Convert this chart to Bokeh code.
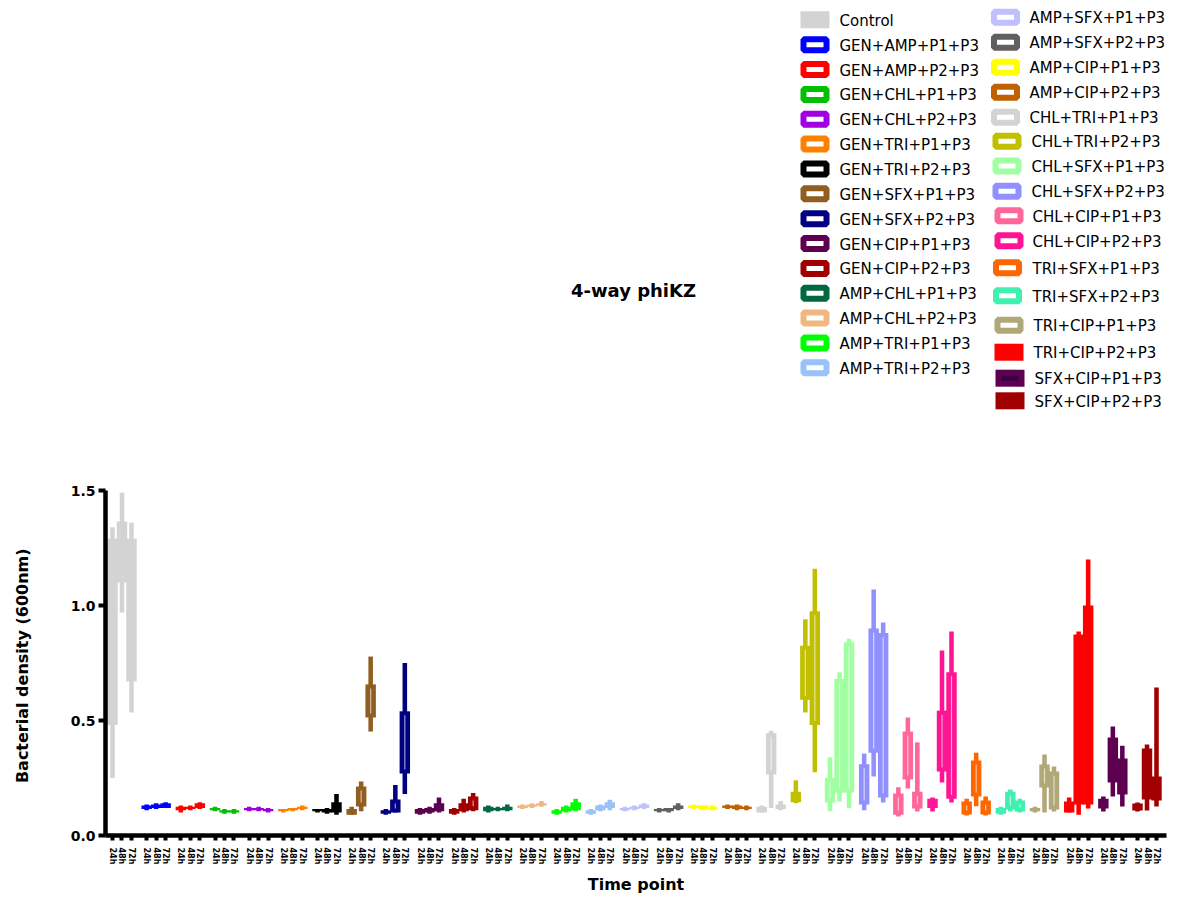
from bokeh.plotting import figure
from bokeh.models import Range1d, FixedTicker, PrintfTickFormatter, ColumnDataSource, Label
from bokeh.layouts import column
from bokeh.embed import file_html
from bokeh.resources import INLINE

groups = ["Control",
          "GEN+AMP+P1+P3", "GEN+AMP+P2+P3", "GEN+CHL+P1+P3", "GEN+CHL+P2+P3",
          "GEN+TRI+P1+P3", "GEN+TRI+P2+P3", "GEN+SFX+P1+P3", "GEN+SFX+P2+P3",
          "GEN+CIP+P1+P3", "GEN+CIP+P2+P3", "AMP+CHL+P1+P3", "AMP+CHL+P2+P3",
          "AMP+TRI+P1+P3", "AMP+TRI+P2+P3", "AMP+SFX+P1+P3", "AMP+SFX+P2+P3",
          "AMP+CIP+P1+P3", "AMP+CIP+P2+P3", "CHL+TRI+P1+P3", "CHL+TRI+P2+P3",
          "CHL+SFX+P1+P3", "CHL+SFX+P2+P3", "CHL+CIP+P1+P3", "CHL+CIP+P2+P3",
          "TRI+SFX+P1+P3", "TRI+SFX+P2+P3", "TRI+CIP+P1+P3", "TRI+CIP+P2+P3",
          "SFX+CIP+P1+P3", "SFX+CIP+P2+P3"]

colors = ["#D3D3D3", "#0000FF", "#FF0000", "#00C000", "#A000E0", "#FF8000",
          "#000000", "#8F5E20", "#000080", "#5E0050", "#A00000", "#006940",
          "#F0B880", "#00FF00", "#99C2F8", "#C0C0FF", "#606060", "#FFFF00",
          "#C06000", "#D3D3D3", "#C0C000", "#A0FFA0", "#9090FF", "#FF6699",
          "#FF1493", "#FF6600", "#40F0B0", "#B0A878", "#FF0000", "#5E0050",
          "#A00000"]

filled = [True] + [False] * 27 + [True, True, True]

time_points = ["24h", "48h", "72h"]

# per group: [24h, 48h, 72h]
mins = [[0.25, 0.97, 0.535], [0.11, 0.115, 0.12], [0.10, 0.11, 0.115],
        [0.105, 0.095, 0.095], [0.105, 0.105, 0.10], [0.10, 0.105, 0.11],
        [0.10, 0.095, 0.09], [0.09, 0.105, 0.452], [0.09, 0.10, 0.18],
        [0.09, 0.095, 0.10], [0.09, 0.10, 0.105], [0.10, 0.105, 0.105],
        [0.115, 0.12, 0.125], [0.09, 0.10, 0.105], [0.09, 0.105, 0.11],
        [0.105, 0.11, 0.115], [0.10, 0.10, 0.11], [0.115, 0.11, 0.11],
        [0.115, 0.11, 0.11], [0.10, 0.12, 0.11], [0.14, 0.535, 0.275],
        [0.105, 0.148, 0.12], [0.11, 0.257, 0.143], [0.083, 0.204, 0.104],
        [0.104, 0.23, 0.143], [0.087, 0.127, 0.087], [0.09, 0.104, 0.10],
        [0.10, 0.10, 0.104], [0.10, 0.09, 0.117], [0.104, 0.17, 0.126],
        [0.104, 0.109, 0.126]]
q1 = [[0.48, 1.10, 0.67], [0.115, 0.12, 0.12], [0.11, 0.115, 0.12],
      [0.11, 0.10, 0.10], [0.11, 0.11, 0.105], [0.105, 0.11, 0.115],
      [0.105, 0.10, 0.10], [0.09, 0.126, 0.513], [0.095, 0.10, 0.27],
      [0.095, 0.10, 0.105], [0.095, 0.105, 0.11], [0.105, 0.11, 0.11],
      [0.12, 0.125, 0.13], [0.095, 0.105, 0.11], [0.095, 0.11, 0.12],
      [0.11, 0.115, 0.12], [0.105, 0.105, 0.115], [0.12, 0.115, 0.115],
      [0.12, 0.115, 0.115], [0.10, 0.265, 0.115], [0.145, 0.59, 0.48],
      [0.143, 0.187, 0.187], [0.135, 0.36, 0.165], [0.09, 0.243, 0.117],
      [0.12, 0.278, 0.16], [0.091, 0.17, 0.091], [0.095, 0.113, 0.104],
      [0.105, 0.209, 0.113], [0.10, 0.135, 0.135], [0.117, 0.23, 0.178],
      [0.109, 0.157, 0.152]]
q3 = [[1.29, 1.365, 1.29], [0.13, 0.135, 0.14], [0.125, 0.125, 0.14],
      [0.12, 0.11, 0.11], [0.12, 0.12, 0.115], [0.115, 0.12, 0.125],
      [0.115, 0.115, 0.145], [0.115, 0.213, 0.657], [0.11, 0.157, 0.54],
      [0.115, 0.12, 0.14], [0.115, 0.14, 0.17], [0.125, 0.12, 0.125],
      [0.13, 0.135, 0.14], [0.11, 0.125, 0.145], [0.11, 0.13, 0.145],
      [0.12, 0.125, 0.135], [0.115, 0.12, 0.13], [0.13, 0.13, 0.125],
      [0.13, 0.13, 0.125], [0.125, 0.445, 0.135], [0.19, 0.825, 0.975],
      [0.25, 0.68, 0.84], [0.31, 0.90, 0.88], [0.183, 0.452, 0.19],
      [0.16, 0.543, 0.71], [0.148, 0.326, 0.152], [0.12, 0.19, 0.152],
      [0.12, 0.309, 0.278], [0.148, 0.874, 1.0], [0.16, 0.426, 0.335],
      [0.139, 0.378, 0.257]]
maxs = [[1.34, 1.49, 1.36], [0.135, 0.14, 0.145], [0.13, 0.13, 0.145],
        [0.125, 0.115, 0.115], [0.125, 0.125, 0.12], [0.115, 0.12, 0.13],
        [0.115, 0.12, 0.18], [0.125, 0.235, 0.778], [0.115, 0.22, 0.75],
        [0.12, 0.125, 0.165], [0.12, 0.16, 0.185], [0.13, 0.125, 0.135],
        [0.135, 0.14, 0.15], [0.115, 0.13, 0.16], [0.115, 0.135, 0.155],
        [0.125, 0.13, 0.14], [0.12, 0.12, 0.14], [0.135, 0.13, 0.13],
        [0.135, 0.135, 0.13], [0.13, 0.455, 0.15], [0.24, 0.94, 1.16],
        [0.34, 0.71, 0.855], [0.356, 1.07, 0.926], [0.21, 0.513, 0.405],
        [0.165, 0.804, 0.887], [0.16, 0.36, 0.17], [0.125, 0.20, 0.16],
        [0.125, 0.352, 0.30], [0.165, 0.887, 1.2], [0.17, 0.474, 0.39],
        [0.143, 0.396, 0.643]]

FONT_NAME = "DejaVu Sans"
W = 1183
BL, BR = 105, 17          # frame borders shared by both figures
X0, X1 = -3.69, 555.27

# ---------------- main plot ----------------
xs, lo, b1, b3, hi, cols, tick_labels = [], [], [], [], [], [], {}
ix, iy0, iy1 = [], [], []
inset = 0.0175
for g in range(len(groups)):
    for j in range(3):
        x = 18 * g + 5 * j
        xs.append(x)
        lo.append(mins[g][j]); hi.append(maxs[g][j])
        b1.append(q1[g][j]); b3.append(q3[g][j])
        cols.append(colors[g])
        tick_labels[x] = time_points[j]
        if not filled[g] and q3[g][j] - q1[g][j] > 2.6 * inset:
            ix.append(x); iy0.append(q1[g][j] + inset); iy1.append(q3[g][j] - inset)

src = ColumnDataSource(dict(x=xs, lo=lo, q1=b1, q3=b3, hi=hi, c=cols))

p = figure(width=W, height=470, x_range=Range1d(X0, X1), y_range=Range1d(0, 1.5),
           output_backend="svg", toolbar_location=None,
           min_border_left=BL, min_border_right=BR, min_border_top=62, min_border_bottom=63)
p.outline_line_color = None
p.grid.visible = False

p.vbar(x="x", width=2.4, bottom="lo", top="hi", fill_color="c", line_color=None, source=src)
p.vbar(x="x", width=5.5, bottom="q1", top="q3", fill_color="c", line_color=None, source=src)
p.segment(x0=ix, y0=iy0, x1=ix, y1=iy1, line_color="white", line_alpha=0.6, line_width=1.2)

p.xaxis.ticker = FixedTicker(ticks=xs)
p.xaxis.major_label_overrides = tick_labels
p.xaxis.major_label_orientation = "vertical"
p.xaxis.major_label_text_font = FONT_NAME
p.xaxis.major_label_text_font_style = "bold"
p.xaxis.major_label_text_font_size = "8px"
p.xaxis.major_label_standoff = 7
p.xaxis.axis_label = "Time point"
p.xaxis.axis_label_standoff = 8

p.yaxis.ticker = FixedTicker(ticks=[0, 0.5, 1.0, 1.5])
p.yaxis.formatter = PrintfTickFormatter(format="%.1f")
p.yaxis.major_label_text_font = FONT_NAME
p.yaxis.major_label_text_font_style = "bold"
p.yaxis.major_label_text_font_size = "14px"
p.yaxis.major_label_standoff = 3
p.yaxis.axis_label = "Bacterial density  (600nm)"
p.yaxis.axis_label_standoff = 36

for ax in (p.xaxis, p.yaxis):
    ax.axis_line_width = 4.5
    ax.axis_line_color = "black"
    ax.major_tick_line_width = 4
    ax.major_tick_in = 0
    ax.minor_tick_line_color = None
    ax.major_label_text_color = "black"
    ax.axis_label_text_font = FONT_NAME
    ax.axis_label_text_font_style = "bold"
    ax.axis_label_text_font_size = "16px"
    ax.axis_label_text_color = "black"
p.xaxis.major_tick_out = 5
p.yaxis.major_tick_out = 7

# ---------------- title + legend (page-pixel coordinates) ----------------
TH = 428
t = figure(width=W, height=TH, x_range=Range1d(BL, W - BR), y_range=Range1d(TH, 0),
           output_backend="svg", toolbar_location=None,
           min_border_left=BL, min_border_right=BR, min_border_top=0, min_border_bottom=0,
           x_axis_location=None, y_axis_location=None)
t.outline_line_color = None
t.grid.visible = False

t.add_layout(Label(x=633, y=290, text="4-way phiKZ", text_font=FONT_NAME, text_font_style="bold",
                   text_font_size="18px", text_align="center", text_baseline="middle",
                   text_color="black"))

n1 = 15
col2_y = [16.7, 41.7, 66.7, 91.7, 116.7, 140.7, 165.5, 190.8, 215.3, 240.3,
          267.3, 295.3, 324.7, 351.7, 377.7, 400.3]
col2_sx = [1005, 1005, 1005, 1005, 1005, 1006.5, 1006.5, 1006.5, 1008.5, 1008.5,
           1007, 1007, 1008.5, 1008.5, 1009.5, 1009.5]
col2_tx = [1029, 1029, 1029, 1029, 1029, 1031, 1031, 1031, 1032, 1032,
           1032, 1032, 1033, 1033, 1034, 1034]
sx = [814.5] * n1 + col2_sx
sy = [19.3 + 24.86 * i for i in range(n1)] + col2_y
tx = [839] * n1 + col2_tx

hx = [sx[i] for i in range(len(groups)) if not filled[i]]
hy = [sy[i] for i in range(len(groups)) if not filled[i]]
hc = [colors[i] for i in range(len(groups)) if not filled[i]]
fx = [sx[i] for i in range(len(groups)) if filled[i]]
fy = [sy[i] for i in range(len(groups)) if filled[i]]
fc = [colors[i] for i in range(len(groups)) if filled[i]]

t.rect(x=hx, y=hy, width=23, height=11, fill_color="white", line_color=hc, line_width=6)
t.rect(x=fx, y=fy, width=29, height=17, fill_color=fc, line_color=None)
t.rect(x=[sx[29]], y=[sy[29]], width=17, height=5, fill_color="#3A0046", line_color=None)
for i, name in enumerate(groups):
    t.add_layout(Label(x=tx[i], y=sy[i] + 1, text=name, text_font=FONT_NAME,
                       text_font_size="15px", text_align="left", text_baseline="middle",
                       text_color="black"))

layout = column(t, p)
open("out.html", "w").write(file_html(layout, INLINE))
